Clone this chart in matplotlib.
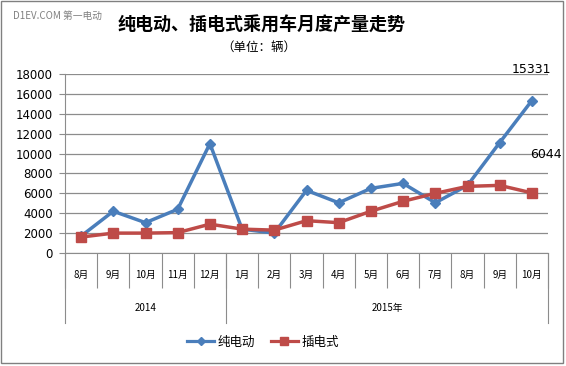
import matplotlib
matplotlib.use("Agg")
import matplotlib.pyplot as plt
from matplotlib.lines import Line2D
from matplotlib.patches import Rectangle
import matplotlib.transforms as mtransforms

plt.rcParams['font.family'] = ['Noto Sans CJK SC', 'DejaVu Sans']

months = ['8月', '9月', '10月', '11月', '12月', '1月', '2月', '3月', '4月', '5月',
          '6月', '7月', '8月', '9月', '10月']
years = ['2014', '2015年']
year_spans = [(0, 4), (5, 14)]
bev = [1700, 4200, 3050, 4400, 11000, 2400, 2000, 6300, 5050, 6500, 7000, 5050, 6800, 11100, 15331]
phev = [1600, 2000, 2000, 2050, 2900, 2400, 2300, 3250, 3050, 4200, 5200, 6000, 6700, 6800, 6044]
series_names = ['纯电动', '插电式']
yticks = list(range(0, 18001, 2000))

W, H = 566, 366
fig = plt.figure(figsize=(W / 100, H / 100), dpi=100)
fig.patch.set_facecolor('white')

def fx(px):
    return px / W

def fy(py):
    return 1 - py / H

left, right, top, bottom = 65, 548, 74, 253
ax = fig.add_axes([fx(left), fy(bottom), fx(right) - fx(left), (bottom - top) / H])

blue = '#4a7ebb'
red = '#be4b48'
grid = '#8c8c8c'
x = list(range(len(months)))

ax.plot(x, bev, color=blue, lw=2.5, marker='D', ms=5, mfc=blue, mec=blue, zorder=3)
ax.plot(x, phev, color=red, lw=2.5, marker='s', ms=7, mfc=red, mec=red, zorder=3)

ax.set_xlim(-0.5, len(months) - 0.5)
ax.set_ylim(0, 18000)
ax.set_yticks(yticks)
ax.set_yticklabels([str(v) for v in yticks], fontsize=8.5, family=['DejaVu Sans'])
ax.yaxis.grid(True, color=grid, lw=0.9)
ax.set_axisbelow(True)
for s in ['top', 'right']:
    ax.spines[s].set_visible(False)
ax.spines['left'].set_color(grid)
ax.spines['bottom'].set_color(grid)
ax.tick_params(axis='y', length=4, color=grid, pad=5)

ax.set_xticks(x)
ax.set_xticklabels(months, fontsize=7)
ax.tick_params(axis='x', which='major', length=0, pad=12)
ax.set_xticks([i - 0.5 for i in range(len(months) + 1)], minor=True)
ax.tick_params(axis='x', which='minor', length=25, color=grid, width=0.8)

trans = mtransforms.blended_transform_factory(ax.transData, ax.transAxes)
ax_h = bottom - top
for bnd in [-0.5, 4.5, len(months) - 0.5]:
    ax.plot([bnd, bnd], [0, -(323 - bottom) / ax_h], transform=trans, color=grid,
            lw=0.8, clip_on=False)
for name, (a, b) in zip(years, year_spans):
    ax.text((a + b) / 2, -(308 - bottom) / ax_h, name, transform=trans,
            ha='center', va='center', fontsize=7)

ax.text(len(months) - 1, 15331, '15331', ha='center', va='bottom', fontsize=9,
        transform=ax.transData + mtransforms.ScaledTranslation(0, 0.25, fig.dpi_scale_trans),
        family=['DejaVu Sans'])
ax.text(len(months) - 1 + 0.45, 6044, '6044', ha='center', va='bottom', fontsize=9,
        transform=ax.transData + mtransforms.ScaledTranslation(0, 0.32, fig.dpi_scale_trans),
        family=['DejaVu Sans'])

fig.text(fx(262), fy(25), '纯电动、插电式乘用车月度产量走势', ha='center', va='center',
         fontsize=13, fontweight='bold')
fig.text(fx(259), fy(47), '（单位：辆）', ha='center', va='center', fontsize=9)
fig.text(fx(13), fy(16), 'D1EV.COM 第一电动', ha='left', va='center', fontsize=7,
         color='#808080')

handles = [Line2D([], [], color=blue, lw=2.3, marker='D', ms=4),
           Line2D([], [], color=red, lw=2.3, marker='s', ms=6)]
fig.legend(handles, series_names, loc='center', bbox_to_anchor=(fx(263), fy(342)),
           ncol=2, frameon=False, fontsize=9, handlelength=2.2, columnspacing=1.2,
           handletextpad=0.3)

fig.patches.append(Rectangle((fx(1), fy(363)), fx(563) - fx(1), fy(1) - fy(363),
                             transform=fig.transFigure, fill=False, edgecolor='#808080',
                             lw=1))

fig.savefig('out.png', dpi=100)
